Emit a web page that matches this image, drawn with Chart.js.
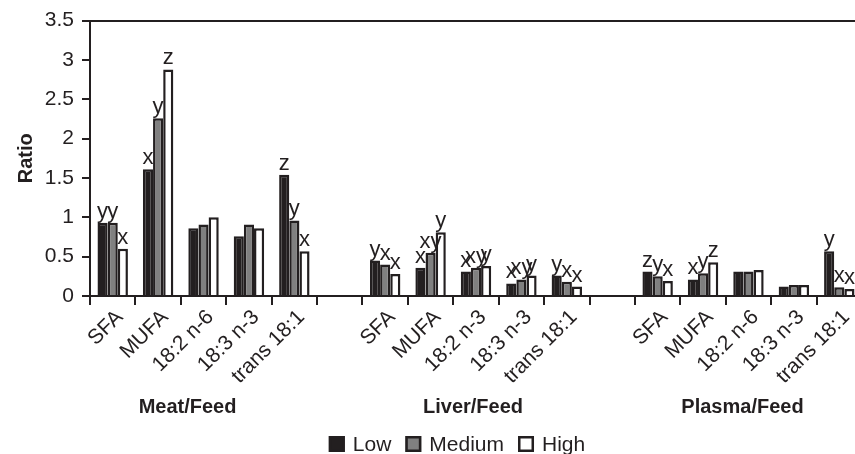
<!DOCTYPE html>
<html>
<head>
<meta charset="utf-8">
<script src="https://cdn.jsdelivr.net/npm/chart.js@4/dist/chart.umd.min.js"></script>
<style>
  html, body { margin: 0; padding: 0; background: #fff; overflow: hidden; }
  #wrap { width: 870px; height: 454px; position: relative; }
</style>
</head>
<body>
<div id="wrap"><canvas id="c"></canvas></div>
<script>
const categories = ['SFA','MUFA','18:2 n-6','18:3 n-3','trans 18:1','',
                    'SFA','MUFA','18:2 n-3','18:3 n-3','trans 18:1','',
                    'SFA','MUFA','18:2 n-6','18:3 n-3','trans 18:1'];
const lowValues    = [0.93,1.61,0.86,0.76,1.54,null, 0.45,0.36,0.31,0.16,0.26,null, 0.31,0.21,0.31,0.12,0.57];
const mediumValues = [0.93,2.26,0.91,0.91,0.96,null, 0.40,0.55,0.36,0.21,0.18,null, 0.25,0.29,0.31,0.14,0.11];
const highValues   = [0.60,2.88,1.00,0.86,0.57,null, 0.28,0.81,0.38,0.26,0.12,null, 0.19,0.43,0.33,0.14,0.09];
const lowLetters    = ['y','x','','','z','', 'y','x','x','x','y','', 'z','x','','','y'];
const mediumLetters = ['y','y','','','y','', 'x','xy','xy','xy','x','', 'y','y','','','x'];
const highLetters   = ['x','z','','','x','', 'x','y','y','y','x','', 'x','z','','','x'];
const seriesNames = ['Low','Medium','High'];
const groupLabels = ['Meat/Feed','Liver/Feed','Plasma/Feed'];
const groupRanges = [[0,4],[6,10],[12,16]];
const yMin = 0, yMax = 3.5, yStep = 0.5;

const INK = '#231f20';
const FONT = '"Liberation Sans", Arial, sans-serif';
const fills = [INK, '#808080', '#ffffff'];
const letters = [lowLetters, mediumLetters, highLetters];

const annotate = {
  id: 'annotate',
  afterDatasetsDraw(chart) {
    const ctx = chart.ctx;
    ctx.save();
    ctx.fillStyle = INK;
    ctx.font = '22px ' + FONT;
    ctx.textAlign = 'center';
    ctx.textBaseline = 'alphabetic';
    chart.data.datasets.forEach((ds, i) => {
      const meta = chart.getDatasetMeta(i);
      meta.data.forEach((el, j) => {
        const t = letters[i][j];
        if (t && ds.data[j] != null) ctx.fillText(t, el.x, el.y - 5);
      });
    });
    ctx.restore();
  },
  afterDraw(chart) {
    const ctx = chart.ctx;
    const xs = chart.scales.x;
    ctx.save();
    ctx.fillStyle = INK;
    // group labels
    ctx.font = 'bold 20px ' + FONT;
    ctx.textAlign = 'center';
    ctx.textBaseline = 'middle';
    const offs = [-16, -3, -6];
    groupRanges.forEach((r, g) => {
      const cx = (xs.getPixelForValue(r[0]) + xs.getPixelForValue(r[1])) / 2 + offs[g];
      ctx.fillText(groupLabels[g], cx, 407);
    });
    // legend
    ctx.font = '21px ' + FONT;
    ctx.textAlign = 'left';
    const box = 16, gapT = 8, gapI = 14;
    let total = 0;
    const widths = seriesNames.map(n => ctx.measureText(n).width);
    widths.forEach((w, i) => { total += box + gapT + w + (i < widths.length - 1 ? gapI : 0); });
    let x = 457 - total / 2;
    const ly = 444;
    seriesNames.forEach((n, i) => {
      ctx.fillStyle = fills[i];
      ctx.fillRect(x, ly - box / 2, box, box);
      ctx.strokeStyle = INK;
      ctx.lineWidth = 2.5;
      ctx.strokeRect(x + 1.25, ly - box / 2 + 1.25, box - 2.5, box - 2.5);
      ctx.fillStyle = INK;
      ctx.fillText(n, x + box + gapT, ly + 1);
      x += box + gapT + widths[i] + gapI;
    });
    ctx.restore();
  }
};

new Chart(document.getElementById('c'), {
  type: 'bar',
  data: {
    labels: categories,
    datasets: [
      { label: seriesNames[0], data: lowValues, backgroundColor: fills[0], borderColor: INK, borderWidth: 2.5 },
      { label: seriesNames[1], data: mediumValues, backgroundColor: fills[1], borderColor: INK, borderWidth: 2.5 },
      { label: seriesNames[2], data: highValues, backgroundColor: fills[2], borderColor: INK, borderWidth: 2.5 }
    ]
  },
  options: {
    responsive: true,
    maintainAspectRatio: false,
    animation: false,
    layout: { padding: { top: 18, right: 8, left: 0, bottom: 0 } },
    datasets: { bar: { categoryPercentage: 0.67, barPercentage: 1.0, borderSkipped: 'bottom' } },
    plugins: { legend: { display: false }, tooltip: { enabled: false } },
    scales: {
      x: {
        afterFit(s) { s.height = 158; },
        border: { color: INK, width: 2 },
        grid: { offset: true, drawOnChartArea: false, drawTicks: true, tickLength: 9, tickColor: INK, lineWidth: 2 },
        ticks: { color: INK, font: { family: FONT, size: 21 }, autoSkip: false, minRotation: 45, maxRotation: 45, padding: 0, labelOffset: 7 }
      },
      y: {
        min: yMin, max: yMax,
        afterFit(s) { s.width = 90; },
        border: { color: INK, width: 2 },
        grid: {
          drawOnChartArea: true, drawTicks: true, tickLength: 8, lineWidth: 2, tickColor: INK,
          color: c => (c.tick && c.tick.value === yMax) ? INK : 'rgba(0,0,0,0)'
        },
        ticks: { stepSize: yStep, color: INK, font: { family: FONT, size: 21 }, padding: 8, callback: v => String(v) },
        title: { display: true, text: 'Ratio', color: INK, font: { family: FONT, size: 20, weight: 'bold' }, padding: { top: 14, bottom: 0 } }
      }
    }
  },
  plugins: [annotate]
});
</script>
</body>
</html>
